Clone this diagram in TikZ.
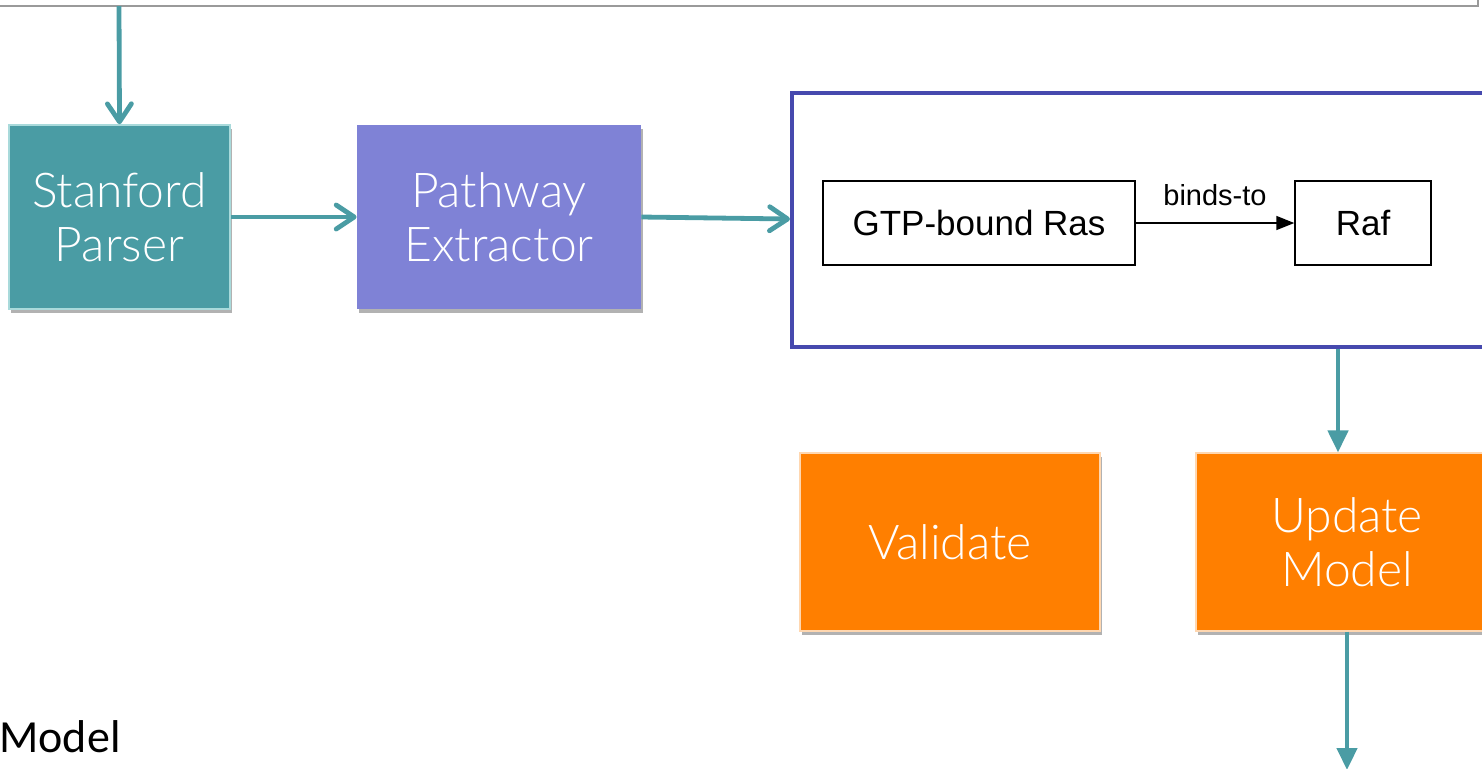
\documentclass[tikz,border=0pt]{standalone}
\usepackage{fontspec}
\setmainfont{Lato}[UprightFont=* Light]
\newfontfamily\helvfont{Liberation Sans}
\newfontfamily\carlitofont{Carlito}
\usetikzlibrary{arrows.meta,shadows,calc}

\definecolor{tealc}{HTML}{4A9CA4}
\definecolor{tealedge}{HTML}{A9DADB}
\definecolor{purplec}{HTML}{7F82D6}
\definecolor{orangec}{HTML}{FF7F00}
\definecolor{orangeedge}{HTML}{FFD7B0}
\definecolor{framec}{HTML}{4649AE}
\definecolor{rulec}{HTML}{9A9A9A}

\tikzset{
  stage/.style={rectangle, inner sep=0pt, align=center, text=white,
    font=\fontsize{24}{27}\selectfont,
    drop shadow={shadow xshift=1.2pt, shadow yshift=-1.8pt, opacity=0.3, fill=black}},
  tealbox/.style={stage, fill=tealc, draw=tealedge, line width=0.8pt},
  purplebox/.style={stage, fill=purplec},
  orangebox/.style={stage, fill=orangec, draw=orangeedge, line width=0.6pt},
  entity/.style={rectangle, draw=black, line width=0.7pt, inner sep=0pt,
    font=\helvfont\fontsize{17.5}{20}\selectfont},
  flow/.style={draw=tealc, line width=2.4pt,
    -{Straight Barb[length=9pt, width=12pt, line cap=round, line join=round]}},
  drop/.style={draw=tealc, line width=2.2pt, -{Triangle[length=11pt, width=10pt]}},
  relation/.style={draw=black, line width=0.7pt, -{Triangle[length=9pt, width=7pt]}},
}

\begin{document}
\begin{tikzpicture}[x=0.5pt, y=-0.5pt]
  \useasboundingbox (0,0) rectangle (1482,768);

  % frame edge along the top
  \draw[rulec, line width=0.8pt] (0,6) -- (1478,6) -- (1478,-2);

  % pipeline stages
  \node[tealbox, minimum width=110.5pt, minimum height=92pt] (parser) at (119.5,217) {Stanford\\Parser};
  \node[purplebox, minimum width=142pt, minimum height=92pt] (extractor) at (499,217) {Pathway\\Extractor};

  % extracted relation panel
  \node[draw=framec, line width=2pt, rectangle, inner sep=0pt,
        minimum width=358pt, minimum height=127pt] (panel) at (1150,220) {};
  \node[entity, minimum width=156pt, minimum height=42pt] (ras) at (979,223) {GTP-bound Ras};
  \node[entity, minimum width=68pt, minimum height=42pt] (raf) at (1363,223) {Raf};
  \draw[relation] (ras) -- node[above=5pt, font=\helvfont\fontsize{14.5}{16}\selectfont] (lbl) {binds-to} (raf);

  % model operations
  \node[orangebox, minimum width=150pt, minimum height=89pt] (validate) at (950,542) {Validate};
  \node[orangebox, minimum width=151pt, minimum height=89pt] (update) at (1347,542) {Update\\Model};

  % free ends of connectors
  \coordinate (src) at (119,6);
  \coordinate (col) at (1338,400);
  \coordinate (sink) at (1347,770);

  \draw[flow] (src) -- (parser.north);
  \draw[flow] (parser.east) -- (extractor.west);
  \draw[flow] (extractor.east) -- ($(panel.west)+(0,-1)$);
  \draw[drop] (panel.south -| col) -- (update.north -| col);
  \draw[drop] (update.south) -- (sink);

  \node[anchor=base west, inner sep=0pt, font=\carlitofont\fontsize{23}{28}\selectfont] (caption) at (-1,752) {Model};
\end{tikzpicture}
\end{document}
